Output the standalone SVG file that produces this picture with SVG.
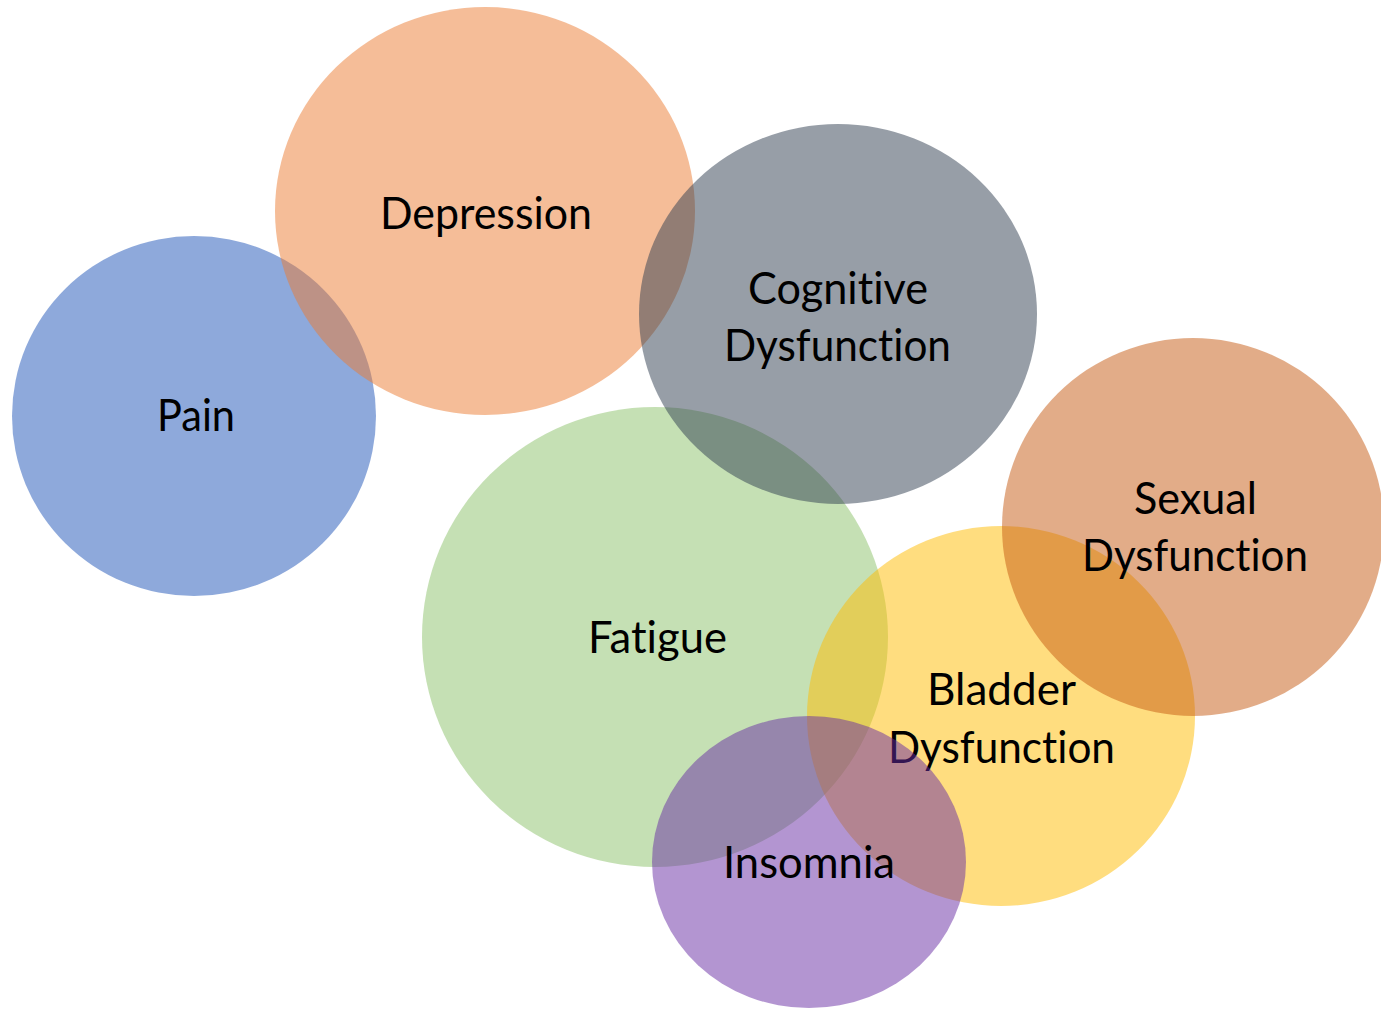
<svg xmlns="http://www.w3.org/2000/svg" width="1381" height="1009" viewBox="0 0 1381 1009">
<style>
.b{fill-opacity:0.5}
.t{font-family:Lato,"Open Sans","Liberation Sans",sans-serif;font-size:44px;fill:#000;text-anchor:start;font-variant-ligatures:none;font-feature-settings:"liga" 0}
</style>
<rect width="1381" height="1009" fill="#fff"/>
<g id="pain"><ellipse class="b" cx="194" cy="416" rx="182" ry="180" fill="#1D53B7"/><text class="t" x="157" y="431" textLength="78" lengthAdjust="spacingAndGlyphs">Pain</text></g>
<g id="depression"><ellipse class="b" cx="485" cy="211" rx="210" ry="204" fill="#EB7B31"/><text class="t" x="380" y="229" textLength="212" lengthAdjust="spacingAndGlyphs">Depression</text></g>
<g id="fatigue"><ellipse class="b" cx="655" cy="637" rx="233" ry="230" fill="#8BC169"/><text class="t" x="588" y="653" textLength="139" lengthAdjust="spacingAndGlyphs">Fatigue</text></g>
<g id="cognitive"><ellipse class="b" cx="838" cy="314" rx="199" ry="190" fill="#2F3D4F"/><text class="t" x="748" y="304" textLength="180" lengthAdjust="spacingAndGlyphs">Cognitive</text><text class="t" x="724" y="361" textLength="227" lengthAdjust="spacingAndGlyphs">Dysfunction</text></g>
<g id="bladder"><ellipse class="b" cx="1001" cy="716" rx="194" ry="190" fill="#FFBB00"/><text class="t" x="927" y="705" textLength="149" lengthAdjust="spacingAndGlyphs">Bladder</text><text class="t" x="888" y="763" textLength="227" lengthAdjust="spacingAndGlyphs">Dysfunction</text></g>
<g id="sexual"><ellipse class="b" cx="1193" cy="527" rx="191" ry="189" fill="#C55A11"/><text class="t" x="1134" y="514" textLength="123" lengthAdjust="spacingAndGlyphs">Sexual</text><text class="t" x="1082" y="571" textLength="226" lengthAdjust="spacingAndGlyphs">Dysfunction</text></g>
<g id="insomnia"><ellipse class="b" cx="809" cy="862" rx="157" ry="146" fill="#672BA3"/><text class="t" x="723" y="878" textLength="172" lengthAdjust="spacingAndGlyphs">Insomnia</text></g>
<g id="connectors"/>
</svg>
